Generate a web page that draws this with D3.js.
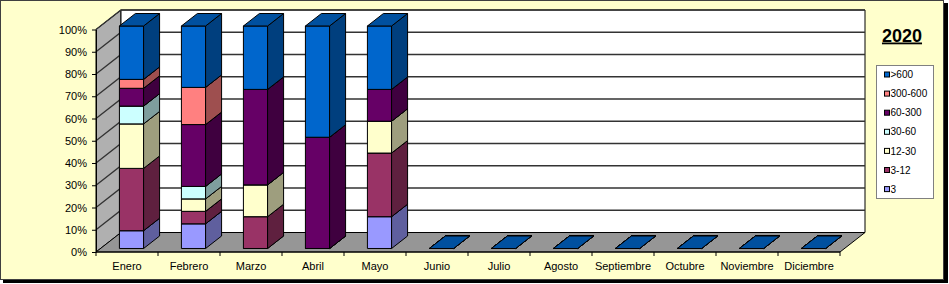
<!DOCTYPE html>
<html>
<head>
<meta charset="utf-8">
<script src="https://cdn.jsdelivr.net/npm/d3@7"></script>
<style>
  html, body { margin: 0; padding: 0; background: #fff; }
  svg { display: block; font-family: "Liberation Sans", Arial, sans-serif; }
</style>
</head>
<body>
<svg id="chart" width="949" height="284"></svg>
<script>
// Monthly percentage distribution per class, drawn as Excel-style 3D stacked columns.
const months = ['Enero', 'Febrero', 'Marzo', 'Abril', 'Mayo', 'Junio', 'Julio',
  'Agosto', 'Septiembre', 'Octubre', 'Noviembre', 'Diciembre'];
const classes = ['3', '3-12', '12-30', '30-60', '60-300', '300-600', '>600'];

const v3      = [8, 11.1, 0,    0,  14.3, 0, 0, 0, 0, 0, 0, 0];
const v3to12  = [28, 5.6, 14.3, 0,  28.6, 0, 0, 0, 0, 0, 0, 0];
const v12to30 = [20, 5.6, 14.3, 0,  14.3, 0, 0, 0, 0, 0, 0, 0];
const v30to60 = [8,  5.6, 0,    0,  0,    0, 0, 0, 0, 0, 0, 0];
const v60to300 = [8, 27.8, 42.9, 50, 14.3, 0, 0, 0, 0, 0, 0, 0];
const v300to600 = [4, 16.7, 0,  0,  0,    0, 0, 0, 0, 0, 0, 0];
const vOver600 = [24, 27.6, 28.5, 50, 28.5, 0, 0, 0, 0, 0, 0, 0];

const colors = ['#9999FF', '#993366', '#FFFFCC', '#CCFFFF', '#660066', '#FF8080', '#0066CC'];
const seriesValues = [v3, v3to12, v12to30, v30to60, v60to300, v300to600, vOver600];

const rows = months.map((m, i) => {
  const r = { month: m };
  classes.forEach((c, k) => { r[c] = seriesValues[k][i]; });
  return r;
});

const svg = d3.select('#chart');

// frame with drop shadow
svg.append('rect').attr('x', 3).attr('y', 3).attr('width', 945).attr('height', 280).attr('fill', '#000');
svg.append('rect').attr('x', 0.5).attr('y', 0.5).attr('width', 943).attr('height', 279)
    .attr('fill', '#FFFFCC').attr('stroke', '#404040');

// front plane and depth offset
const pLeft = 96, pRight = 840, pBottom = 252, pTop = 29.5;
const DX = 25, DY = 19.5;
const P = (x, y, z) => [x + z * DX, y - z * DY];

const x = d3.scaleBand().domain(months).range([pLeft, pRight]);
const y = d3.scaleLinear().domain([0, 1]).range([pBottom, pTop]);

const line = d3.line();
const poly = pts => line(pts) + 'Z';

const g = svg.append('g');

// walls + floor
g.append('path')
    .attr('d', poly([P(pLeft, pBottom, 0), P(pLeft, pTop, 0), P(pLeft, pTop, 1), P(pLeft, pBottom, 1)]))
    .attr('fill', '#B0B0B0').attr('stroke', '#000');
g.append('path')
    .attr('d', poly([P(pLeft, pTop, 1), P(pRight, pTop, 1), P(pRight, pBottom, 1), P(pLeft, pBottom, 1)]))
    .attr('fill', '#fff').attr('stroke', '#000');
g.append('path')
    .attr('d', poly([P(pLeft, pBottom, 0), P(pRight, pBottom, 0), P(pRight, pBottom, 1), P(pLeft, pBottom, 1)]))
    .attr('fill', '#969696').attr('stroke', '#000');

// gridlines across left wall and back wall
const ticks = y.ticks(10);
g.append('g').selectAll('path')
  .data(ticks.filter(t => t > 0))
  .join('path')
    .attr('fill', 'none')
    .attr('stroke', '#333')
    .attr('stroke-width', 1.3)
    .attr('d', t => line([P(pLeft, y(t), 0), P(pLeft, y(t), 1), P(pRight, y(t), 1)]));

// y axis on the front plane
const yAxis = g.append('g')
    .attr('transform', `translate(${pLeft},0)`)
    .call(d3.axisLeft(y).ticks(10).tickFormat(d3.format('.0%')).tickSize(4).tickSizeOuter(0));
yAxis.select('.domain').attr('stroke', '#000');
yAxis.selectAll('.tick line').attr('stroke', '#000');
yAxis.selectAll('.tick text').attr('x', -9).attr('font-size', 11).attr('fill', '#000')
    .attr('font-family', '"Liberation Sans", Arial, sans-serif');

// category axis: boundary ticks + centred labels
g.append('line').attr('x1', pLeft).attr('x2', pRight).attr('y1', pBottom).attr('y2', pBottom).attr('stroke', '#000');
g.append('g').selectAll('line')
  .data(d3.range(months.length + 1))
  .join('line')
    .attr('x1', i => pLeft + i * x.step()).attr('x2', i => pLeft + i * x.step())
    .attr('y1', pBottom).attr('y2', pBottom + 4)
    .attr('stroke', '#000');
const xAxis = g.append('g')
    .attr('transform', `translate(0,${pBottom})`)
    .call(d3.axisBottom(x).tickSize(0));
xAxis.select('.domain').remove();
xAxis.selectAll('.tick text').attr('y', 10).attr('font-size', 11).attr('fill', '#000')
    .attr('font-family', '"Liberation Sans", Arial, sans-serif');

// stacked 3D columns
const stack = d3.stack().keys(classes).offset(d3.stackOffsetExpand);
const layers = stack(rows);
const shade = (c, f) => { const r = d3.rgb(c); return d3.rgb(r.r * f, r.g * f, r.b * f).formatHex(); };

const barW = x.bandwidth() * 0.39;
const z0 = 0.18, z1 = 0.82;

months.forEach((m, i) => {
  const cx = x(m) + x.bandwidth() / 2;
  const x0 = cx - barW / 2, x1 = cx + barW / 2;
  const col = g.append('g');
  layers.forEach((layer, k) => {
    const [a, b] = layer[i];
    const ya = y(a), yb = y(b);
    const c = colors[k];
    const face = col.append('g').attr('stroke', '#000').attr('stroke-width', 1).attr('stroke-linejoin', 'round');
    if (b > a) {
      face.append('path').attr('fill', c)
          .attr('d', poly([P(x0, ya, z0), P(x1, ya, z0), P(x1, yb, z0), P(x0, yb, z0)]));
      face.append('path').attr('fill', shade(c, 0.62))
          .attr('d', poly([P(x1, ya, z0), P(x1, ya, z1), P(x1, yb, z1), P(x1, yb, z0)]));
    }
    face.append('path').attr('fill', shade(c, 0.78))
        .attr('d', poly([P(x0, yb, z0), P(x1, yb, z0), P(x1, yb, z1), P(x0, yb, z1)]));
  });
});

// title
svg.append('text')
    .attr('x', 902).attr('y', 41.5)
    .attr('text-anchor', 'middle')
    .attr('font-size', 18).attr('font-weight', 'bold')
    .attr('text-decoration', 'underline')
    .text('2020');

// legend (top class first)
const legend = svg.append('g');
legend.append('rect').attr('x', 876.5).attr('y', 65.5).attr('width', 57).attr('height', 133)
    .attr('fill', '#fff').attr('stroke', '#808080');
const legendItems = classes.map((c, k) => ({ name: c, color: colors[k] })).reverse();
const item = legend.selectAll('g.item')
  .data(legendItems)
  .join('g')
    .attr('class', 'item')
    .attr('transform', (d, i) => `translate(884,${74.5 + i * 19.1})`);
item.append('rect').attr('x', 0.5).attr('y', -2.5).attr('width', 5).attr('height', 5)
    .attr('fill', d => d.color).attr('stroke', '#000');
item.append('text').attr('x', 6.5).attr('y', 3.6).attr('font-size', 10).attr('fill', '#000')
    .text(d => d.name);
</script>
</body>
</html>
